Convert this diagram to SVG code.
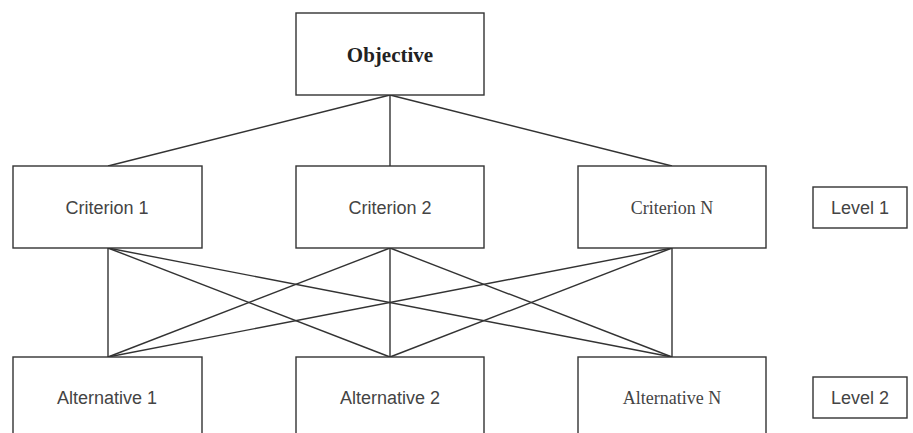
<svg xmlns="http://www.w3.org/2000/svg" width="913" height="433" viewBox="0 0 913 433">
<style>
.box{fill:#fff;stroke:#333;stroke-width:1.4}
.ln{stroke:#333;stroke-width:1.4;fill:none}
.sans{font-family:"Liberation Sans",Arial,sans-serif;font-size:18px;fill:#444;text-anchor:middle;dominant-baseline:central}
.serif{font-family:"Liberation Serif","Times New Roman",serif;font-size:18px;fill:#444;text-anchor:middle;dominant-baseline:central}
.bold{font-family:"Liberation Serif","Times New Roman",serif;font-size:21px;font-weight:bold;fill:#222;text-anchor:middle;dominant-baseline:central}
</style>
<rect width="913" height="433" fill="#fff"/>
<g id="connectors">
<line class="ln" x1="390" y1="95" x2="108" y2="166"/>
<line class="ln" x1="390" y1="95" x2="390" y2="166"/>
<line class="ln" x1="390" y1="95" x2="672" y2="166"/>
<line class="ln" x1="108" y1="248" x2="108" y2="357"/>
<line class="ln" x1="108" y1="248" x2="390" y2="357"/>
<line class="ln" x1="108" y1="248" x2="672" y2="357"/>
<line class="ln" x1="390" y1="248" x2="108" y2="357"/>
<line class="ln" x1="390" y1="248" x2="390" y2="357"/>
<line class="ln" x1="390" y1="248" x2="672" y2="357"/>
<line class="ln" x1="672" y1="248" x2="108" y2="357"/>
<line class="ln" x1="672" y1="248" x2="390" y2="357"/>
<line class="ln" x1="672" y1="248" x2="672" y2="357"/>
</g>
<g id="objective"><rect class="box" x="296" y="13" width="188" height="82"/><text class="bold" x="390" y="55">Objective</text></g>
<g id="criterion1"><rect class="box" x="13" y="166" width="189" height="82"/><text class="sans" x="107" y="208">Criterion 1</text></g>
<g id="criterion2"><rect class="box" x="296" y="166" width="188" height="82"/><text class="sans" x="390" y="208">Criterion 2</text></g>
<g id="criterionN"><rect class="box" x="578" y="166" width="188" height="82"/><text class="serif" x="672" y="208">Criterion N</text></g>
<g id="level1"><rect class="box" x="813" y="187" width="94" height="41"/><text class="sans" x="860" y="208">Level 1</text></g>
<g id="alternative1"><rect class="box" x="13" y="357" width="189" height="90"/><text class="sans" x="107" y="398">Alternative 1</text></g>
<g id="alternative2"><rect class="box" x="296" y="357" width="188" height="90"/><text class="sans" x="390" y="398">Alternative 2</text></g>
<g id="alternativeN"><rect class="box" x="578" y="357" width="188" height="90"/><text class="serif" x="672" y="398">Alternative N</text></g>
<g id="level2"><rect class="box" x="813" y="377" width="94" height="41"/><text class="sans" x="860" y="398">Level 2</text></g>
</svg>
